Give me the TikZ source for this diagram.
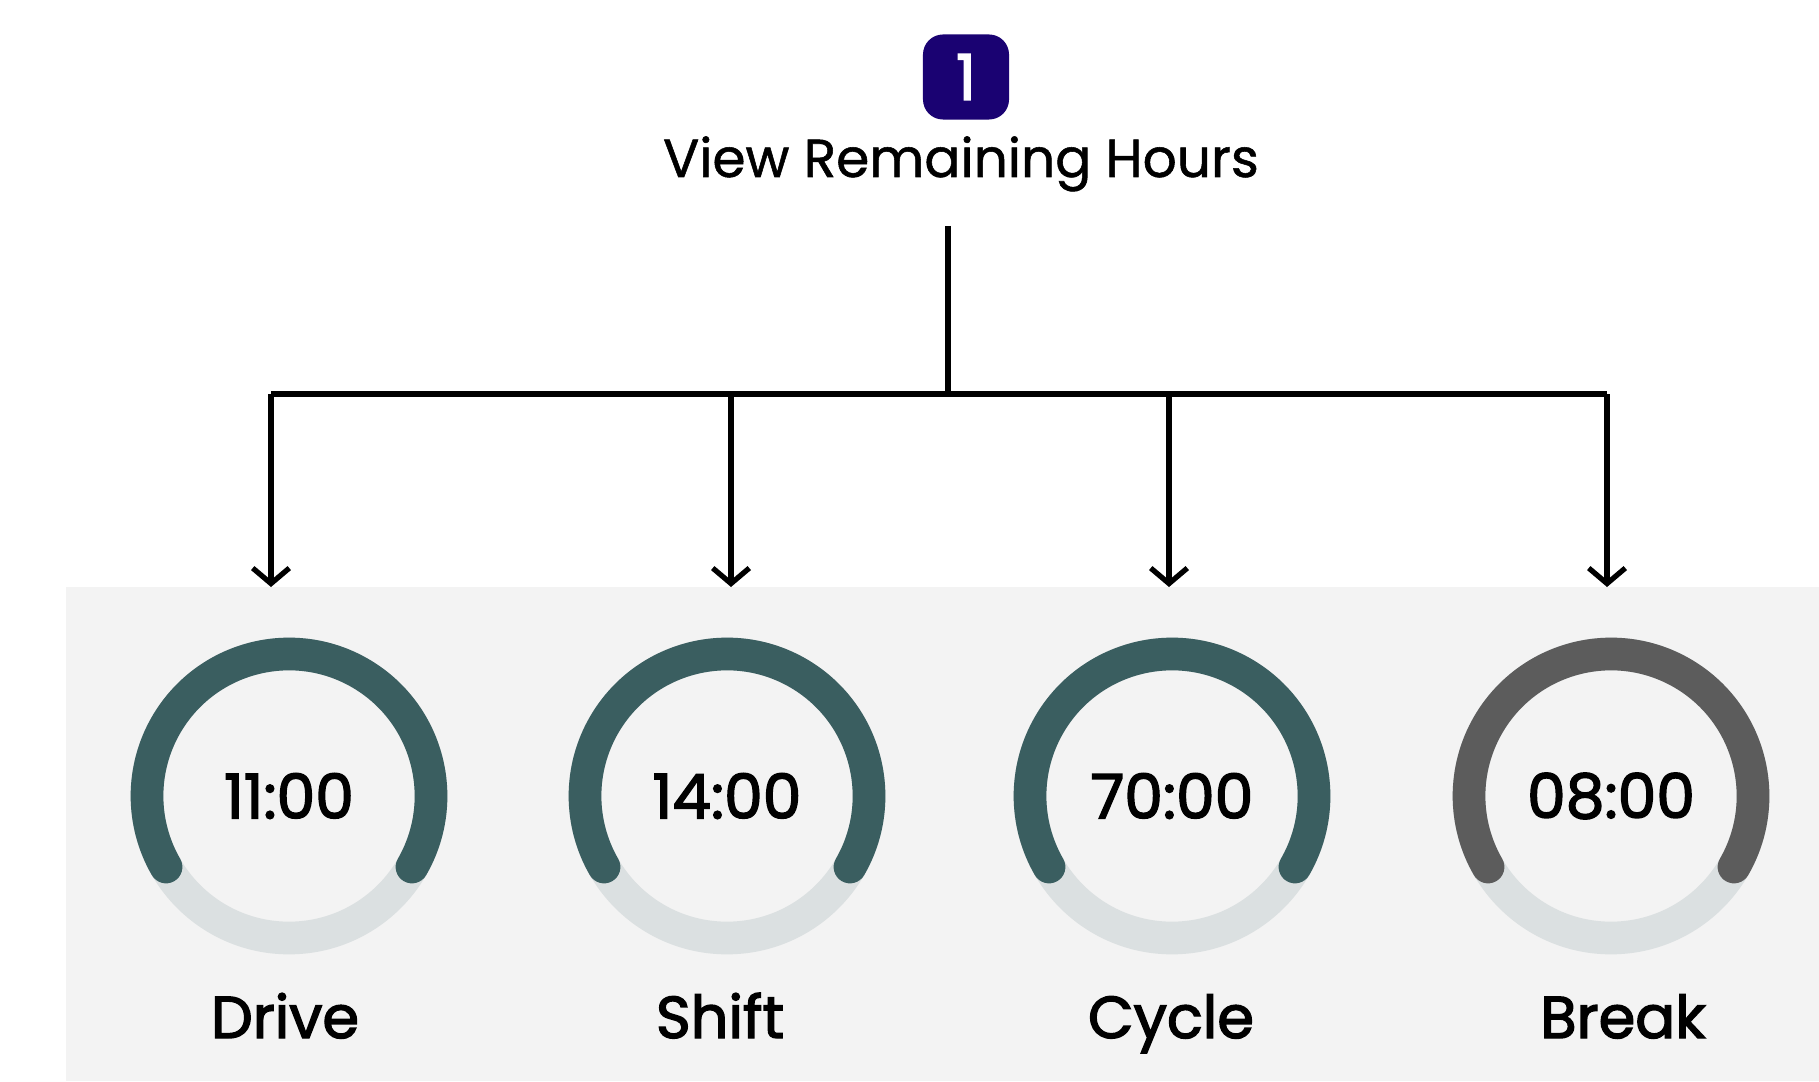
\documentclass[tikz,border=0pt]{standalone}
\usepackage{fontspec}
\setmainfont{Poppins}
\newfontfamily\medfont{Poppins}[FakeBold=2.4]
\newfontfamily\titlefont{Poppins}[FakeBold=1]
\usepackage{tikz}
\usetikzlibrary{positioning,calc,arrows.meta}
\definecolor{badgeblue}{RGB}{26,2,114}
\definecolor{ringteal}{RGB}{58,94,96}
\definecolor{ringgrey}{RGB}{92,92,92}
\definecolor{ringlight}{RGB}{219,224,225}
\definecolor{panelgrey}{RGB}{243,243,243}
\tikzset{
	link/.style={line width=1.5pt,black},
	ringbg/.style={draw=ringlight,line width=9.3pt},
	ringfg/.style={line width=9.3pt,line cap=round},
	timetxt/.style={font=\medfont\fontsize{17.5}{20}\selectfont,inner sep=0pt},
	labeltxt/.style={font=\medfont\fontsize{16.8}{20}\selectfont,inner sep=0pt,anchor=base}
}

\begin{document}
\begin{tikzpicture}[x=0.01cm,y=0.01cm]
	\def\R{142};
	\def\yG{285};
	\def\yBus{687};
	\def\yPanel{494};
	\useasboundingbox (0,0) rectangle (1819,1081);
	
	%Fond
	\fill[white] (0,0) rectangle (1819,1081);
	\fill[panelgrey] (66,0) rectangle (1819,\yPanel);
	
	%Titre
	\node[fill=badgeblue,rounded corners=0.2cm,minimum width=0.86cm,minimum height=0.85cm,inner sep=0pt,
		text=white,font=\medfont\fontsize{18}{20}\selectfont] (badge) at (966,1004) {1};
	\node[anchor=base,inner sep=0pt,font=\titlefont\fontsize{15.2}{18}\selectfont] (title) at (961,904) {View Remaining Hours};
	
	%Points de l'arbre
	\coordinate (top) at (948,855);
	\coordinate (split) at (948,\yBus);
	\coordinate (busL) at (271,\yBus);
	\coordinate (busR) at (1607,\yBus);
	\coordinate (inDrive) at (271,\yPanel);
	\coordinate (inShift) at (731,\yPanel);
	\coordinate (inCycle) at (1169,\yPanel);
	\coordinate (inBreak) at (1607,\yPanel);
	
	\draw[link] (top) -- (split);
	\draw[link] (busL) -- (busR);
	\draw[link,-{Straight Barb[length=4.4pt,width=10.4pt]}] (busL) -- (inDrive);
	\draw[link,-{Straight Barb[length=4.4pt,width=10.4pt]}] (731,\yBus) -- (inShift);
	\draw[link,-{Straight Barb[length=4.4pt,width=10.4pt]}] (1169,\yBus) -- (inCycle);
	\draw[link,-{Straight Barb[length=4.4pt,width=10.4pt]}] (busR) -- (inBreak);
	
	%Jauges
	\coordinate (cDrive) at (289,\yG);
	\coordinate (cShift) at (727,\yG);
	\coordinate (cCycle) at (1172,\yG);
	\coordinate (cBreak) at (1611,\yG);
	
	\draw[ringbg] (cDrive) circle[radius=\R];
	\draw[ringfg,ringteal] ($(cDrive)+(-30:\R)$) arc[start angle=-30,end angle=210,radius=\R];
	\node[timetxt] (drive) at (cDrive) {11:00};
	\node[labeltxt] (drive-label) at (285,43) {Drive};
	
	\draw[ringbg] (cShift) circle[radius=\R];
	\draw[ringfg,ringteal] ($(cShift)+(-30:\R)$) arc[start angle=-30,end angle=210,radius=\R];
	\node[timetxt] (shift) at (cShift) {14:00};
	\node[labeltxt] (shift-label) at (720,43) {Shift};
	
	\draw[ringbg] (cCycle) circle[radius=\R];
	\draw[ringfg,ringteal] ($(cCycle)+(-30:\R)$) arc[start angle=-30,end angle=210,radius=\R];
	\node[timetxt] (cycle) at (cCycle) {70:00};
	\node[labeltxt] (cycle-label) at (1171,43) {Cycle};
	
	\draw[ringbg] (cBreak) circle[radius=\R];
	\draw[ringfg,ringgrey] ($(cBreak)+(-30:\R)$) arc[start angle=-30,end angle=210,radius=\R];
	\node[timetxt] (break) at (cBreak) {08:00};
	\node[labeltxt] (break-label) at (1623,43) {Break};
	
\end{tikzpicture}
\end{document}
